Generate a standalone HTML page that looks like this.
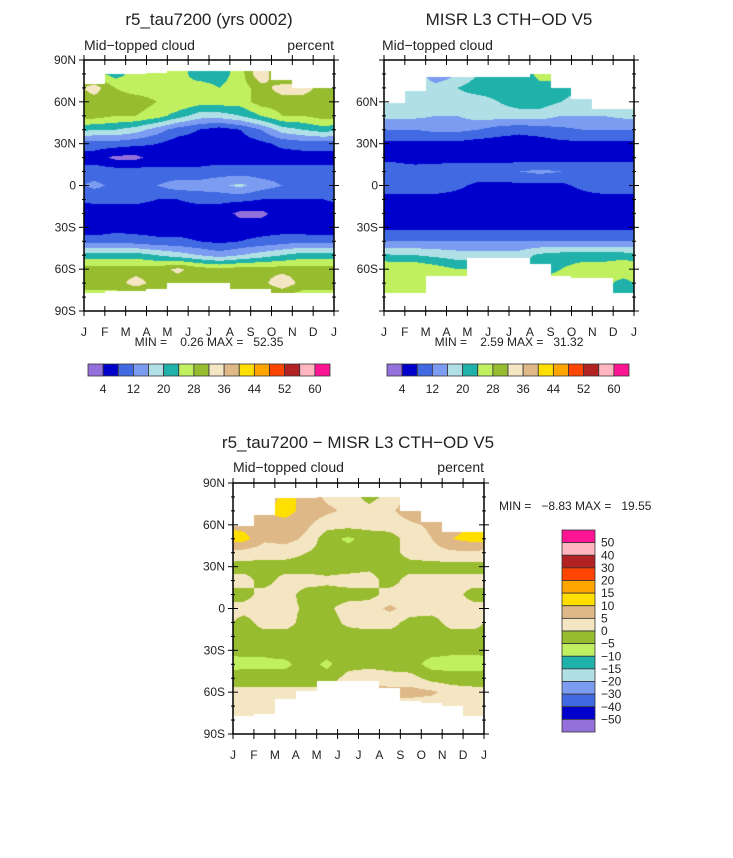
<!DOCTYPE html>
<html><head><meta charset="utf-8"><style>
body{margin:0;background:#fff;width:733px;height:858px;position:relative;overflow:hidden;font-family:"Liberation Sans",sans-serif}
canvas{position:absolute}
svg{position:absolute;left:0;top:0}
text{font-family:"Liberation Sans",sans-serif;fill:#222;white-space:pre}
</style></head><body>
<canvas id="c1" width="250" height="251" style="left:84px;top:60px"></canvas>
<canvas id="c2" width="250" height="251" style="left:384px;top:60px"></canvas>
<canvas id="c3" width="251" height="251" style="left:233px;top:483px"></canvas>
<svg id="ov" width="733" height="858"></svg>
<script>
const lats=[80,70,60,50,40,30,20,10,0,-10,-20,-30,-40,-50,-60,-70,-80];
const monthLabels=["J","F","M","A","M","J","J","A","S","O","N","D","J"];
const latLabels=["90N","60N","30N","0","30S","60S","90S"];
const levelsAbs=[4,8,12,16,20,24,28,32,36,40,44,48,52,56,60];
const levelsDiff=[-50,-40,-30,-20,-15,-10,-5,0,5,10,15,20,30,40,50];
const absTickLabels=["4","12","20","28","36","44","52","60"];
const diffTickLabels=["50","40","30","20","15","10","5","0","\u22125","\u221210","\u221215","\u221220","\u221230","\u221240","\u221250"];
const model=[
[26,22,26,26,26,22,22,26,36,26,26,26],
[34,28,26,26,24,26,24,26,30,34,34,30],
[30,30,30,28,28,26,26,26,30,30,30,30],
[30,28,28,26,22,18,18,20,24,28,28,30],
[20,20,18,14,10,8,6,8,12,18,20,22],
[10,10,9,8,6,6,6,6,7,9,10,10],
[6,3,3,6,6,6,6,6,6,6,6,6],
[10,10,10,9,9,9,10,10,10,10,10,10],
[13,11,11,12,14,14,15,17,14,12,11,11],
[9,9,9,8,8,9,9,9,8,8,8,8],
[6,6,6,6,6,6,6,3,3,6,6,6],
[4,6,6,6,6,6,6,6,6,6,5,4],
[11,11,10,9,9,8,7,8,9,10,11,11],
[22,22,22,20,18,16,14,16,18,20,22,22],
[30,30,30,30,33,30,29,30,30,30,30,30],
[30,30,34,30,30,30,30,30,30,36,30,30],
[26,26,26,26,26,26,26,26,26,26,26,26]];
const misr=[
[20,20,12,16,20,22,20,26,26,20,18,18],
[18,18,18,20,22,22,22,22,22,20,18,18],
[18,18,18,18,18,20,22,22,20,18,18,18],
[17,17,16,16,18,18,18,18,16,16,16,17],
[12,12,13,13,12,10,9,10,11,12,12,12],
[7,7,7,7,6,6,6,6,7,7,7,7],
[6,4,5,6,6,6,6,6,6,6,6,6],
[12,12,12,11,11,11,12,13,12,12,12,12],
[11,11,11,9,7,7,7,7,7,9,11,11],
[6,6,6,6,6,6,6,6,6,6,6,6],
[6,6,6,6,6,6,6,6,6,6,6,6],
[7,7,7,7,7,7,7,7,7,7,7,7],
[12,12,12,12,12,12,12,12,12,12,12,12],
[20,20,19,18,18,18,18,21,22,22,22,22],
[28,28,26,24,24,24,22,22,24,26,26,28],
[26,26,26,26,26,26,26,26,26,26,26,22],
[26,26,26,26,26,26,26,26,26,26,26,22]];
const diff=[
[6,6,12,8,4,3,-2,2,6,6,6,6],
[8,10,12,8,6,4,2,4,8,10,12,8],
[8,8,8,6,2,2,2,2,4,6,8,10],
[12,6,7,4,-3,-6,-3,-2,2,5,10,12],
[3,2,2,0,-2,-3,-3,-2,2,3,4,4],
[-2,-2,-2,-2,-2,-2,-1,-2,-2,-2,-2,-2],
[2,-2,2,2,1,2,2,-2,2,2,2,2],
[-2,2,2,-2,-2,-2,-2,2,2,2,2,-2],
[2,2,2,-1,-1,2,3,6,3,2,2,2],
[-2,2,2,-2,-2,1,2,2,-2,-2,2,2],
[-2,-2,-2,-2,-2,-2,-2,-2,-2,-2,-2,-2],
[-4,-4,-3,-3,-3,-2,-2,-2,-3,-3,-4,-4],
[-6,-6,-6,-3,-6,-2,-2,-2,-3,-7,-7,-7],
[-3,-3,-3,-3,-3,2,4,2,2,-2,-3,-3],
[2,2,2,2,2,5,6,7,7,6,3,2],
[2,2,2,2,2,2,2,2,2,2,2,2],
[2,2,2,2,2,2,2,2,2,2,2,2]];
const modelTop=[73,80,80,81,82,82,82,82,82,76,70,70];
const modelBot=[-77,-76,-76,-74,-70,-70,-70,-74,-74,-77,-77,-77];
const misrTop=[59,68,78,78,78,78,78,80,70,62,55,55];
const misrBot=[-77,-77,-65,-65,-52,-52,-52,-56,-65,-66,-66,-77];
const diffTop=[59,67,79,79,80,80,80,80,70,62,55,55];
const diffBot=[-77,-76,-65,-59,-52,-52,-52,-57,-66,-68,-70,-77];
const colors=["#9370db","#0000cd","#4169e1","#7b9cf0","#b0e0e6","#20b2aa","#c0f060","#98bc30","#f5e6c3","#deb887","#ffdf00","#ffa500","#ff4500","#b22222","#ffb6c1","#ff1493"];

function sample(grid,lat,m){
  let la=Math.max(-80,Math.min(80,lat));
  let r=(80-la)/10, i0=Math.min(15,Math.floor(r)), fr=r-i0;
  let c=m-0.5; if(c<0)c+=12; let j0=Math.floor(c)%12, j1=(j0+1)%12, fc=c-Math.floor(c);
  const a=grid[i0][j0]*(1-fc)+grid[i0][j1]*fc;
  const b=grid[i0+1][j0]*(1-fc)+grid[i0+1][j1]*fc;
  return a*(1-fr)+b*fr;
}
function level(v,lv){let k=0;while(k<lv.length&&v>=lv[k])k++;return k;}
function field(id,grid,top,bot,lv){
  const cv=document.getElementById(id),ctx=cv.getContext('2d');
  const W=cv.width,H=cv.height;
  for(let y=0;y<H;y++){const lat=90-(y+0.5)*180/H;
    for(let x=0;x<W;x++){const m=(x+0.5)*12/W;const mi=Math.min(11,Math.floor(m));
      if(lat>top[mi]||lat<bot[mi])continue;
      ctx.fillStyle=colors[level(sample(grid,lat,m),lv)];ctx.fillRect(x,y,1,1);}}
}
field('c1',model,modelTop,modelBot,levelsAbs);
field('c2',misr,misrTop,misrBot,levelsAbs);
field('c3',diff,diffTop,diffBot,levelsDiff);

const NS="http://www.w3.org/2000/svg",svg=document.getElementById('ov');
function el(t,a,txt){const e=document.createElementNS(NS,t);for(const k in a)e.setAttribute(k,a[k]);if(txt!==undefined)e.textContent=txt;svg.appendChild(e);return e;}
function txt(x,y,s,size,anchor,name){const e=el('text',{x:x,y:y,'font-size':size,'text-anchor':anchor||'start'},s);

return e;}
function axes(x0,y0,w,h,leftLabels,labelSet,pfx){
  const r=el('rect',{x:x0,y:y0,width:w,height:h,fill:'none',stroke:'#000','stroke-width':1.5});
  
  
  for(let i=0;i<=12;i++){const x=x0+i*w/12;
    el('line',{x1:x,x2:x,y1:y0-5,y2:y0+5,stroke:'#000'});el('line',{x1:x,x2:x,y1:y0+h-5,y2:y0+h+5,stroke:'#000'});
    txt(x,y0+h+25,monthLabels[i],12,'middle',pfx+'-month-label');}
  for(let d=0;d<=18;d++){const y=y0+d*h/18,L=(d%3==0)?5:2;
    el('line',{x1:x0-L,x2:x0+L,y1:y,y2:y,stroke:'#000'});el('line',{x1:x0+w-L,x2:x0+w+L,y1:y,y2:y,stroke:'#000'});}
  for(let k=0;k<7;k++){if(!labelSet&&(k==0||k==6))continue;
    txt(leftLabels,y0+k*h/6+4,latLabels[k],12,'end',pfx+'-lat-label');}
}
function hbar(x0,y0,w,h,pfx){const bw=w/16;
  for(let i=0;i<16;i++){const r=el('rect',{x:x0+i*bw,y:y0,width:bw,height:h,fill:colors[i],stroke:'#333','stroke-width':0.8});
    
    }
  for(let k=0;k<absTickLabels.length;k++)txt(x0+(2*k+1)*bw,y0+h+17,absTickLabels[k],12,'middle',pfx+'-colorbar-label');
}
txt(209,25,"r5_tau7200 (yrs 0002)",17,'middle','model-title');
txt(84,50,"Mid\u2212topped cloud",14,'start','model-subtitle');
txt(334,50,"percent",14,'end','model-units');
axes(84,60,250,251,76,true,'model');
txt(209,346,"MIN =    0.26 MAX =   52.35",12,'middle','model-min-max');
hbar(88,364,242,12,'model');

txt(509,25,"MISR L3 CTH\u2212OD V5",17,'middle','misr-title');
txt(382,50,"Mid\u2212topped cloud",14,'start','misr-subtitle');
axes(384,60,250,251,378,false,'misr');
txt(509,346,"MIN =    2.59 MAX =   31.32",12,'middle','misr-min-max');
hbar(387,364,242,12,'misr');

txt(358,448,"r5_tau7200 \u2212 MISR L3 CTH\u2212OD V5",17,'middle','diff-title');
txt(233,472,"Mid\u2212topped cloud",14,'start','diff-subtitle');
txt(484,472,"percent",14,'end','diff-units');
axes(233,483,251,251,225,true,'diff');
txt(499,510,"MIN =   \u22128.83 MAX =   19.55",12,'start','diff-min-max');
(function(){const x0=562,y0=530,w=33,h=202,bh=h/16;
  for(let i=0;i<16;i++){const r=el('rect',{x:x0,y:y0+i*bh,width:w,height:bh,fill:colors[15-i],stroke:'#333','stroke-width':0.8});
    
    }
  for(let k=0;k<diffTickLabels.length;k++)txt(601,y0+(k+1)*bh+4,diffTickLabels[k],12,'start','diff-colorbar-label');
})();
</script>
</body></html>
